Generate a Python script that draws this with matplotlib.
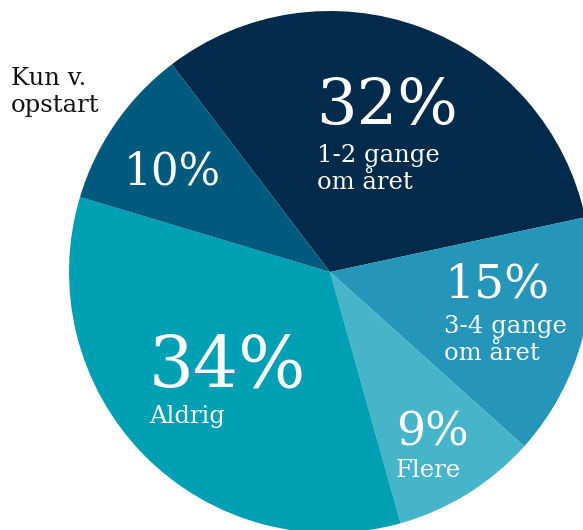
import matplotlib
matplotlib.use("Agg")
import matplotlib.pyplot as plt

plt.rcParams['font.family'] = ['DejaVu Serif']

# Share of respondents by frequency (clockwise from the top-left)
shares = [32, 15, 9, 34, 10]
labels = ["1-2 gange\nom året", "3-4 gange\nom året", "Flere", "Aldrig", ""]
colors = ["#022a4a", "#2596b9", "#46b4c9", "#00a0b4", "#005a7d"]
outside_label = "Kun v.\nopstart"

W, H = 583, 530
CX, CY, R = 330, 272, 261


def to_data(px, py):
    return (px - CX) / R, (CY - py) / R


fig = plt.figure(figsize=(W / 100, H / 100), dpi=100)
ax = fig.add_axes([0, 0, 1, 1])
ax.pie(shares, colors=colors, startangle=127.3, counterclock=False,
       radius=1, center=(0, 0), wedgeprops=dict(linewidth=0))
ax.set_xlim(-CX / R, (W - CX) / R)
ax.set_ylim(-(H - CY) / R, CY / R)
ax.set_aspect('auto')
ax.axis('off')

# percentage text: (x, baseline y) in pixels and font size
pct_pos = [(316, 125, 46), (444, 298, 34), (396, 445, 33), (149, 387, 51), (124, 185, 31.5)]
# label text: (x, top y) in pixels
lab_pos = [(317, 144), (444, 315), (396, 459), (149, 405), None]
lab_size = 17.5

for v, lab, (px, py, fs), lp in zip(shares, labels, pct_pos, lab_pos):
    x, y = to_data(px, py)
    ax.text(x, y, f"{v}%", color="white", fontsize=fs, ha="left", va="baseline")
    if lp and lab:
        x, y = to_data(*lp)
        ax.text(x, y, lab, color="white", fontsize=lab_size, ha="left",
                va="top", linespacing=1.22)

x, y = to_data(11, 67)
ax.text(x, y, outside_label, color="#111111", fontsize=lab_size, ha="left",
        va="top", linespacing=1.22)

fig.savefig("out.png", dpi=100)
